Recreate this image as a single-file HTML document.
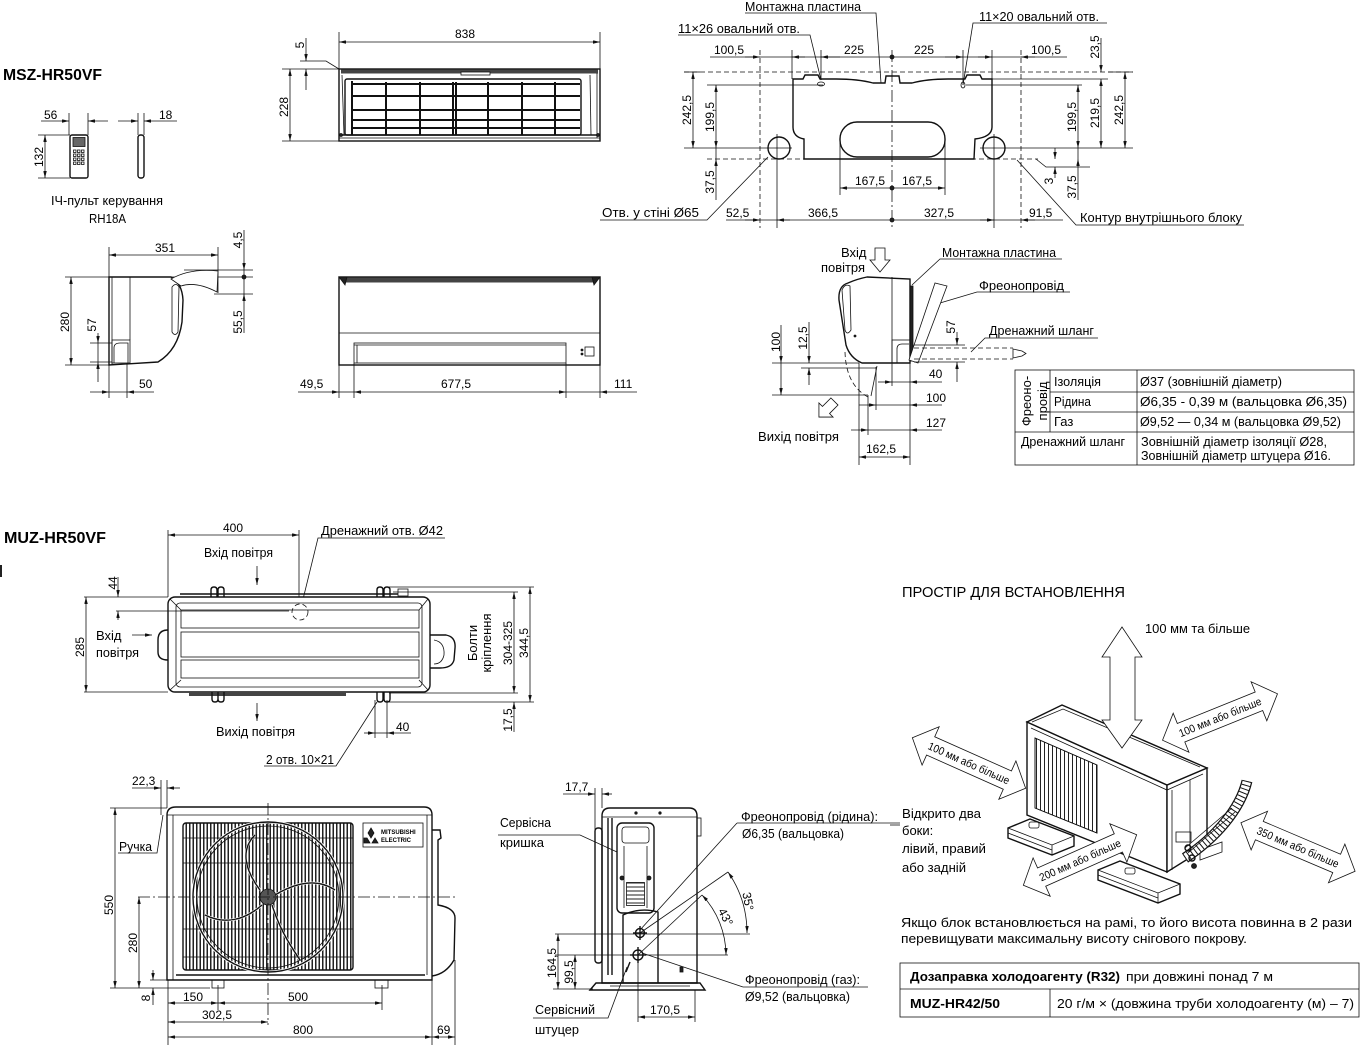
<!DOCTYPE html>
<html><head><meta charset="utf-8">
<style>
html,body{margin:0;padding:0;background:#fff;}
svg{display:block;}
text{font-family:"Liberation Sans","DejaVu Sans",sans-serif;font-size:12px;fill:#000;}
.l{font-size:13px;}
line,path,polyline,polygon,rect,circle,ellipse{stroke:#111;stroke-width:0.8;fill:none;}
.t{stroke-width:1.4;}
.dd{marker-start:url(#a);marker-end:url(#a);}
.de{marker-end:url(#a);}
.ds{stroke-dasharray:5 3;}
.dc{stroke-dasharray:12 3 2 3;}
.f{fill:#fff;}
.k{fill:#222;}
.g{stroke-width:2;}
</style></head><body>
<svg width="1372" height="1064" viewBox="0 0 1372 1064">
<defs>
<marker id="a" viewBox="0 0 10 5" refX="10" refY="2.5" markerWidth="7" markerHeight="3.5" orient="auto-start-reverse" markerUnits="userSpaceOnUse"><path d="M0,0L10,2.5L0,5z" style="fill:#111;stroke:none"/></marker>
<pattern id="vb" width="3.5" height="10" patternUnits="userSpaceOnUse"><rect x="0" y="0" width="1.5" height="10" style="fill:#222;stroke:none"/></pattern>
<pattern id="fb" width="4" height="10" patternUnits="userSpaceOnUse"><rect x="0" y="0" width="1" height="10" style="fill:#222;stroke:none"/></pattern>
</defs>

<!-- ================= A: title & remote ================= -->
<text x="3" y="80" style="font-weight:bold;font-size:16px" textLength="99" lengthAdjust="spacingAndGlyphs">MSZ-HR50VF</text>
<text x="44" y="119">56</text>
<line x1="41" y1="121" x2="69" y2="121" class="de"/>
<line x1="108" y1="121" x2="88" y2="121" class="de"/>
<line x1="69" y1="113" x2="69" y2="135"/>
<line x1="88" y1="113" x2="88" y2="135"/>
<text x="159" y="119">18</text>
<line x1="118" y1="121" x2="138" y2="121" class="de"/>
<line x1="177" y1="121" x2="144" y2="121" class="de"/>
<line x1="138" y1="113" x2="138" y2="135"/>
<line x1="144" y1="113" x2="144" y2="135"/>
<text transform="translate(43,157) rotate(-90)" text-anchor="middle">132</text>
<line x1="45" y1="135" x2="45" y2="178" class="dd"/>
<line x1="38" y1="135" x2="70" y2="135"/>
<line x1="38" y1="178" x2="70" y2="178"/>
<rect x="70" y="135" width="18" height="43" rx="2" class="t"/>
<rect x="73" y="137.5" width="12" height="9" style="fill:#666"/>
<g>
<rect x="73.5" y="150" width="2.5" height="2.5"/><rect x="77.5" y="150" width="2.5" height="2.5"/><rect x="81.5" y="150" width="2.5" height="2.5"/>
<rect x="73.5" y="154" width="2.5" height="2.5"/><rect x="77.5" y="154" width="2.5" height="2.5"/><rect x="81.5" y="154" width="2.5" height="2.5"/>
<rect x="73.5" y="158" width="2.5" height="2.5"/><rect x="77.5" y="158" width="2.5" height="2.5"/><rect x="81.5" y="158" width="2.5" height="2.5"/>
<rect x="73.5" y="162" width="2.5" height="2.5"/><rect x="77.5" y="162" width="2.5" height="2.5"/><rect x="81.5" y="162" width="2.5" height="2.5"/>
</g>
<rect x="138" y="135" width="6" height="43" rx="2.5" class="t"/>
<text x="51" y="205" class="l" textLength="112" lengthAdjust="spacingAndGlyphs">ІЧ-пульт керування</text>
<text x="89" y="223" class="l" textLength="37" lengthAdjust="spacingAndGlyphs">RH18A</text>

<!-- ================= B: indoor front (top) ================= -->
<line x1="339" y1="32" x2="339" y2="69"/>
<line x1="600" y1="32" x2="600" y2="69"/>
<line x1="339" y1="42" x2="600" y2="42" class="dd"/>
<text x="455" y="38">838</text>
<text transform="translate(304,45) rotate(-90)" text-anchor="middle">5</text>
<line x1="306" y1="38" x2="306" y2="61" class="de"/>
<line x1="306" y1="90" x2="306" y2="69" class="de"/>
<polyline points="300,61 326,61 339,69"/>
<line x1="282" y1="69" x2="339" y2="69"/>
<line x1="282" y1="141" x2="339" y2="141"/>
<line x1="290" y1="69" x2="290" y2="141" class="dd"/>
<text transform="translate(288,107) rotate(-90)" text-anchor="middle">228</text>
<rect x="339" y="69" width="261" height="72" class="t"/>
<rect x="341" y="69.5" width="257" height="4" style="fill:#444;stroke:none"/>
<rect x="461" y="72" width="29" height="3" style="fill:#fff"/>
<rect x="345" y="79" width="236" height="56" rx="2" class="t"/>
<g>
<line x1="352" y1="81" x2="352" y2="135" class="g"/><line x1="386" y1="82" x2="386" y2="135" class="g"/>
<line x1="420" y1="82" x2="420" y2="135" class="g"/><line x1="453" y1="82" x2="453" y2="135" class="g"/>
<line x1="456" y1="82" x2="456" y2="135" class="g"/><line x1="488" y1="82" x2="488" y2="135" class="g"/>
<line x1="522" y1="82" x2="522" y2="135" class="g"/><line x1="555" y1="82" x2="555" y2="135" class="g"/>
<line x1="352" y1="84" x2="580" y2="84" class="g"/><line x1="352" y1="96" x2="580" y2="96" class="g"/>
<line x1="352" y1="110" x2="580" y2="110" class="g"/><line x1="352" y1="120" x2="580" y2="120" class="g"/>
<line x1="352" y1="128" x2="580" y2="128" class="g"/>
</g>
<line x1="339" y1="135" x2="600" y2="135" class="t"/>
<line x1="339" y1="138" x2="600" y2="138"/>
<line x1="590" y1="75" x2="591" y2="135"/>
<line x1="597" y1="73" x2="597" y2="138"/>
<line x1="342" y1="75" x2="344" y2="135"/>
<circle cx="341" cy="135" r="1.5" class="k"/><circle cx="598" cy="135" r="1.5" class="k"/>

<!-- ================= C: indoor side view ================= -->
<text x="155" y="252">351</text>
<line x1="109" y1="255" x2="218" y2="255" class="dd"/>
<line x1="109" y1="247" x2="109" y2="277"/>
<line x1="218" y1="247" x2="218" y2="293"/>
<line x1="244" y1="230" x2="244" y2="270" class="de"/>
<line x1="244" y1="333" x2="244" y2="294" class="de"/>
<line x1="244" y1="270" x2="244" y2="294"/>
<circle cx="244" cy="277" r="2" class="k"/>
<line x1="184" y1="270" x2="253" y2="270"/>
<line x1="65" y1="277" x2="253" y2="277"/>
<line x1="214" y1="294" x2="253" y2="294"/>
<text transform="translate(242,240) rotate(-90)" text-anchor="middle">4,5</text>
<text transform="translate(242,322) rotate(-90)" text-anchor="middle">55,5</text>
<path d="M109,277 L171,277 Q182,283 183,300 L182,322 Q178,350 158,362 L109,365 Z" class="t f"/>
<line x1="112" y1="277" x2="112" y2="365"/>
<line x1="130" y1="277" x2="130" y2="340"/>
<path d="M171,279 Q190,268 218,271 L217,292 Q196,281 181,286 Z" class="f"/>
<path d="M172,287 Q176,282 179,287 L178,332 Q175,337 172,332 Z"/>
<rect x="112" y="340" width="18" height="23"/>
<path d="M114,363 L114,348 Q114,343 120,343 L128,343 L128,363"/>
<text transform="translate(69,322) rotate(-90)" text-anchor="middle">280</text>
<line x1="71" y1="277" x2="71" y2="365" class="dd"/>
<line x1="65" y1="365" x2="109" y2="365"/>
<text transform="translate(96,325) rotate(-90)" text-anchor="middle">57</text>
<line x1="98" y1="333" x2="98" y2="343" class="de"/>
<line x1="98" y1="382" x2="98" y2="362" class="de"/>
<line x1="98" y1="343" x2="98" y2="362"/>
<line x1="90" y1="343" x2="112" y2="343"/>
<line x1="90" y1="362" x2="112" y2="362"/>
<text x="139" y="388">50</text>
<line x1="90" y1="392" x2="109" y2="392" class="de"/>
<line x1="154" y1="392" x2="127" y2="392" class="de"/>
<line x1="109" y1="392" x2="127" y2="392"/>
<line x1="109" y1="365" x2="109" y2="398"/>
<line x1="127" y1="363" x2="127" y2="398"/>

<!-- ================= D: indoor front (lower) ================= -->
<rect x="339" y="277" width="261" height="88" class="t"/>
<rect x="345" y="277.5" width="250" height="5" style="fill:#444;stroke:none"/>
<path d="M339,277 L347,277 L345,285 Z" class="k"/>
<path d="M600,277 L592,277 L594,285 Z" class="k"/>
<line x1="339" y1="333" x2="600" y2="333"/>
<rect x="354" y="343" width="212" height="20"/>
<line x1="357" y1="345" x2="357" y2="363"/>
<line x1="354" y1="345" x2="566" y2="345"/>
<circle cx="582" cy="350" r="1" class="k"/><circle cx="582" cy="354" r="1" class="k"/>
<rect x="585" y="347" width="9" height="9"/>
<line x1="298" y1="392" x2="339" y2="392" class="de"/>
<line x1="354" y1="392" x2="566" y2="392" class="dd"/>
<line x1="637" y1="392" x2="600" y2="392" class="de"/>
<line x1="339" y1="392" x2="354" y2="392"/>
<line x1="566" y1="392" x2="600" y2="392"/>
<line x1="339" y1="365" x2="339" y2="398"/>
<line x1="354" y1="363" x2="354" y2="398"/>
<line x1="566" y1="363" x2="566" y2="398"/>
<line x1="600" y1="365" x2="600" y2="398"/>
<text x="300" y="388">49,5</text>
<text x="441" y="388">677,5</text>
<text x="614" y="388">111</text>

<!-- ================= E: mounting plate ================= -->
<text x="745" y="11" class="l" textLength="116" lengthAdjust="spacingAndGlyphs">Монтажна пластина</text>
<polyline points="745,13 876,13 881,83"/>
<text x="678" y="33" class="l" textLength="122" lengthAdjust="spacingAndGlyphs">11×26 овальний отв.</text>
<polyline points="678,35 810,35 821,80"/>
<text x="979" y="21" class="l" textLength="120" lengthAdjust="spacingAndGlyphs">11×20 овальний отв.</text>
<polyline points="1107,23 973,23 963,85"/>

<line x1="710" y1="57" x2="1067" y2="57"/>
<line x1="745" y1="57" x2="760" y2="57" class="de"/>
<line x1="805" y1="57" x2="792" y2="57" class="de"/>
<line x1="840" y1="57" x2="821" y2="57" class="de"/>
<circle cx="892" cy="57" r="2" class="k"/>
<line x1="945" y1="57" x2="963" y2="57" class="de"/>
<line x1="978" y1="57" x2="992" y2="57" class="de"/>
<line x1="1035" y1="57" x2="1021" y2="57" class="de"/>
<text x="714" y="54">100,5</text>
<text x="844" y="54">225</text>
<text x="914" y="54">225</text>
<text x="1031" y="54">100,5</text>

<line x1="760" y1="50" x2="760" y2="228" class="ds"/>
<line x1="792" y1="50" x2="792" y2="79"/>
<line x1="821" y1="50" x2="821" y2="80"/>
<line x1="892" y1="50" x2="892" y2="228" class="dc"/>
<line x1="963" y1="50" x2="963" y2="85"/>
<line x1="992" y1="50" x2="992" y2="79"/>
<line x1="1021" y1="50" x2="1021" y2="228" class="ds"/>

<line x1="684" y1="72" x2="1133" y2="72" class="ds"/>
<line x1="684" y1="72" x2="700" y2="72"/>
<line x1="1108" y1="72" x2="1133" y2="72"/>
<line x1="707" y1="85" x2="823" y2="85"/>
<line x1="966" y1="85" x2="1082" y2="85"/>
<line x1="992" y1="79" x2="1108" y2="79"/>
<line x1="684" y1="148" x2="792" y2="148"/>
<line x1="980" y1="148" x2="1133" y2="148"/>
<line x1="707" y1="159" x2="1038" y2="159" class="ds"/>
<polyline points="1036,159 1046,167 1090,167"/>

<path d="M793,79 L803,79 L805,75 L818,75 L820,79 L836,79 Q858,79 873,83 L885,83 L886,76 L899,76 L900,83 L912,83 Q927,79 948,79 L965,79 L967,75 L980,75 L982,79 L992,79 L992,127 Q992,137 975,139 L974,159 L804,159 L804,139 Q793,137 793,127 Z" class="t"/>
<rect x="840" y="122" width="105" height="35" rx="17" class="t"/>
<circle cx="779" cy="148" r="11" class="t"/>
<circle cx="994" cy="148" r="11" class="t"/>
<line x1="777" y1="134" x2="777" y2="228"/>
<line x1="994" y1="134" x2="994" y2="228"/>
<ellipse cx="821" cy="84" rx="3.5" ry="2"/>
<ellipse cx="963" cy="85" rx="2" ry="3"/>

<line x1="693" y1="72" x2="693" y2="148" class="dd"/>
<text transform="translate(691,110) rotate(-90)" text-anchor="middle">242,5</text>
<line x1="716" y1="85" x2="716" y2="148" class="dd"/>
<text transform="translate(714,117) rotate(-90)" text-anchor="middle">199,5</text>
<line x1="716" y1="200" x2="716" y2="159" class="de"/>
<line x1="716" y1="148" x2="716" y2="159"/>
<text transform="translate(714,182) rotate(-90)" text-anchor="middle">37,5</text>

<line x1="1078" y1="85" x2="1078" y2="148" class="dd"/>
<text transform="translate(1076,117) rotate(-90)" text-anchor="middle">199,5</text>
<line x1="1101" y1="79" x2="1101" y2="148" class="dd"/>
<text transform="translate(1099,113) rotate(-90)" text-anchor="middle">219,5</text>
<line x1="1125" y1="72" x2="1125" y2="148" class="dd"/>
<text transform="translate(1123,110) rotate(-90)" text-anchor="middle">242,5</text>
<line x1="1101" y1="38" x2="1101" y2="72" class="de"/>
<text transform="translate(1099,47) rotate(-90)" text-anchor="middle">23,5</text>
<line x1="1055" y1="148" x2="1055" y2="159" class="de"/>
<line x1="1055" y1="178" x2="1055" y2="167" class="de"/>
<text transform="translate(1053,181) rotate(-90)" text-anchor="middle">3</text>
<line x1="1078" y1="200" x2="1078" y2="159" class="de"/>
<line x1="1078" y1="148" x2="1078" y2="159"/>
<text transform="translate(1076,187) rotate(-90)" text-anchor="middle">37,5</text>

<line x1="726" y1="220" x2="1063" y2="220"/>
<line x1="745" y1="220" x2="760" y2="220" class="de"/>
<line x1="790" y1="220" x2="777" y2="220" class="de"/>
<circle cx="892" cy="220" r="2" class="k"/>
<line x1="980" y1="220" x2="994" y2="220" class="de"/>
<line x1="1035" y1="220" x2="1021" y2="220" class="de"/>
<text x="726" y="217">52,5</text>
<text x="808" y="217">366,5</text>
<text x="924" y="217">327,5</text>
<text x="1029" y="217">91,5</text>
<text x="855" y="185">167,5</text>
<text x="902" y="185">167,5</text>
<line x1="840" y1="188" x2="945" y2="188" class="dd"/>
<circle cx="892" cy="188" r="2" class="k"/>
<line x1="840" y1="140" x2="840" y2="195"/>
<line x1="945" y1="140" x2="945" y2="195"/>
<text x="602" y="217" class="l" textLength="97" lengthAdjust="spacingAndGlyphs">Отв. у стіні Ø65</text>
<polyline points="600,220 707,220 768,157"/>
<text x="1080" y="222" class="l" textLength="162" lengthAdjust="spacingAndGlyphs">Контур внутрішнього блоку</text>
<polyline points="1244,225 1076,225 1017,160"/>

<!-- ================= F: indoor side w/ air ================= -->
<text x="841" y="257" class="l">Вхід</text>
<text x="821" y="272" class="l" textLength="44" lengthAdjust="spacingAndGlyphs">повітря</text>
<polygon points="875,248 885,248 885,260 890,260 880,272 870,260 875,260" class="f"/>
<text x="942" y="257" class="l" textLength="114" lengthAdjust="spacingAndGlyphs">Монтажна пластина</text>
<polyline points="1062,259 940,259 912,285"/>
<text x="979" y="290" class="l" textLength="85" lengthAdjust="spacingAndGlyphs">Фреонопровід</text>
<polyline points="1070,292 977,292 940,303"/>
<text x="989" y="335" class="l" textLength="105" lengthAdjust="spacingAndGlyphs">Дренажний шланг</text>
<polyline points="1098,338 985,338 971,352"/>

<path d="M867,277 L910,279 L910,363 L862,363 Q850,358 846,345 L839,300 Q838,286 848,283 Q857,279 867,277 Z" class="t f"/>
<line x1="892" y1="277" x2="892" y2="363"/>
<path d="M842,290 Q845,283 850,286 L851,330 Q847,336 845,330 Z"/>
<circle cx="855" cy="336" r="1" class="k"/>
<rect x="892" y="340" width="18" height="23"/>
<path d="M897,363 L897,349 Q897,344 902,344 L909,344"/>
<rect x="910" y="286" width="3" height="75" class="k"/>
<polygon points="909,360 935,283 947,286 918,363" class="f"/>
<line x1="914" y1="348" x2="1013" y2="348" class="ds"/>
<line x1="914" y1="359" x2="1013" y2="359" class="ds"/>
<polygon points="1013,349 1022,351 1026,353.5 1022,356 1013,358"/>
<path d="M845,352 Q846,385 868,397" class="ds"/>
<line x1="877" y1="366" x2="871" y2="396"/>
<polygon points="-5,-12 5,-12 5,0 10,0 0,10 -10,0 -5,0" class="f" transform="translate(826,410) rotate(45)"/>

<text transform="translate(780,342) rotate(-90)" text-anchor="middle">100</text>
<line x1="781" y1="325" x2="781" y2="363" class="de"/>
<line x1="781" y1="363" x2="781" y2="395" class="de"/>
<line x1="772" y1="363" x2="859" y2="363"/>
<line x1="772" y1="395" x2="868" y2="395"/>
<text transform="translate(807,338) rotate(-90)" text-anchor="middle">12,5</text>
<line x1="809" y1="322" x2="809" y2="363" class="de"/>
<line x1="809" y1="385" x2="809" y2="368" class="de"/>
<line x1="801" y1="368" x2="876" y2="368"/>
<text transform="translate(955,327) rotate(-90)" text-anchor="middle">57</text>
<line x1="957" y1="332" x2="957" y2="345" class="de"/>
<line x1="957" y1="382" x2="957" y2="362" class="de"/>
<line x1="914" y1="345" x2="965" y2="345"/>
<line x1="914" y1="362" x2="965" y2="362"/>
<text x="929" y="378">40</text>
<line x1="878" y1="382" x2="892" y2="382" class="de"/>
<line x1="942" y1="382" x2="910" y2="382" class="de"/>
<line x1="892" y1="382" x2="910" y2="382"/>
<text x="926" y="402">100</text>
<line x1="859" y1="405" x2="876" y2="405" class="de"/>
<line x1="942" y1="405" x2="910" y2="405" class="de"/>
<line x1="876" y1="405" x2="910" y2="405"/>
<text x="926" y="427">127</text>
<line x1="851" y1="430" x2="868" y2="430" class="de"/>
<line x1="942" y1="430" x2="910" y2="430" class="de"/>
<line x1="868" y1="430" x2="910" y2="430"/>
<text x="866" y="453">162,5</text>
<line x1="859" y1="457" x2="910" y2="457" class="dd"/>
<line x1="859" y1="363" x2="859" y2="465"/>
<line x1="910" y1="363" x2="910" y2="465"/>
<line x1="868" y1="395" x2="868" y2="435"/>
<line x1="876" y1="367" x2="876" y2="410"/>
<line x1="892" y1="363" x2="892" y2="386"/>
<text x="758" y="441" class="l" textLength="81" lengthAdjust="spacingAndGlyphs">Вихід повітря</text>

<!-- table -->
<rect x="1015" y="370" width="339" height="95"/>
<line x1="1050" y1="370" x2="1050" y2="432"/>
<line x1="1137" y1="370" x2="1137" y2="465"/>
<line x1="1050" y1="392" x2="1354" y2="392"/>
<line x1="1050" y1="412" x2="1354" y2="412"/>
<line x1="1015" y1="432" x2="1354" y2="432"/>
<text transform="translate(1031,401) rotate(-90)" text-anchor="middle" class="l">Фреоно-</text>
<text transform="translate(1047,401) rotate(-90)" text-anchor="middle" class="l">провід</text>
<text x="1054" y="386" class="l" textLength="47" lengthAdjust="spacingAndGlyphs">Ізоляція</text>
<text x="1054" y="406" class="l" textLength="37" lengthAdjust="spacingAndGlyphs">Рідина</text>
<text x="1054" y="426" class="l">Газ</text>
<text x="1140" y="386" class="l" textLength="142" lengthAdjust="spacingAndGlyphs">Ø37 (зовнішній діаметр)</text>
<text x="1140" y="406" class="l" textLength="207" lengthAdjust="spacingAndGlyphs">Ø6,35 - 0,39 м (вальцовка Ø6,35)</text>
<text x="1140" y="426" class="l" textLength="201" lengthAdjust="spacingAndGlyphs">Ø9,52 — 0,34  м (вальцовка Ø9,52)</text>
<text x="1021" y="446" class="l" textLength="104" lengthAdjust="spacingAndGlyphs">Дренажний шланг</text>
<text x="1141" y="446" class="l" textLength="186" lengthAdjust="spacingAndGlyphs">Зовнішній діаметр ізоляції Ø28,</text>
<text x="1141" y="460" class="l" textLength="190" lengthAdjust="spacingAndGlyphs">Зовнішній діаметр штуцера Ø16.</text>

<!-- ================= G: outdoor top view ================= -->
<text x="4" y="543" style="font-weight:bold;font-size:16px" textLength="102" lengthAdjust="spacingAndGlyphs">MUZ-HR50VF</text>
<rect x="0" y="565" width="2" height="12" class="k" style="stroke:none"/>
<text x="223" y="532">400</text>
<line x1="168" y1="535" x2="299" y2="535" class="dd"/>
<line x1="168" y1="530" x2="168" y2="597"/>
<line x1="299" y1="530" x2="299" y2="623"/>
<text x="204" y="557" class="l" textLength="69" lengthAdjust="spacingAndGlyphs">Вхід повітря</text>
<line x1="257" y1="566" x2="257" y2="585" class="de"/>
<text x="321" y="535" class="l" textLength="122" lengthAdjust="spacingAndGlyphs">Дренажний  отв. Ø42</text>
<polyline points="445,538 318,538 295,632"/>

<path d="M168,630 Q158,630 158,640 L158,652 Q158,660 168,660" class="t"/>
<path d="M430,635 L446,635 Q456,637 455,648 L454,660 Q452,668 440,668 L430,668" class="t"/>
<path d="M434,640 Q445,642 444,655 Q442,664 434,664"/>
<rect x="168" y="597" width="262" height="95" rx="7" class="t f"/>
<rect x="176" y="603" width="246" height="84" rx="4"/>
<line x1="170" y1="599" x2="181" y2="610"/><line x1="428" y1="599" x2="419" y2="610"/>
<line x1="170" y1="690" x2="181" y2="680"/><line x1="428" y1="690" x2="419" y2="680"/>
<rect x="181" y="610" width="238" height="18"/>
<rect x="181" y="632" width="238" height="25"/>
<rect x="181" y="660" width="238" height="18"/>
<line x1="180" y1="594" x2="398" y2="594" class="t"/>
<rect x="398" y="589" width="10" height="7"/>
<rect x="189" y="692" width="157" height="4" style="fill:#444;stroke:none"/>
<path d="M211,597 L211,590 Q211,587 214,587 Q217,587 217,590 L217,597 M218,597 L218,590 Q218,587 221,587 Q224,587 224,590 L224,597" class="t"/>
<path d="M377,597 L377,590 Q377,587 380,587 Q383,587 383,590 L383,597 M384,597 L384,590 Q384,587 387,587 Q390,587 390,590 L390,597" class="t"/>
<path d="M212,692 L212,699 Q212,702 215,702 Q218,702 218,699 L218,692 M218,692 L218,699 Q218,702 221,702 Q224,702 224,699 L224,692" class="t"/>
<path d="M377,692 L377,699 Q377,702 380,702 Q383,702 383,699 L383,692 M384,692 L384,699 Q384,702 387,702 Q390,702 390,699 L390,692" class="t"/>
<circle cx="300" cy="612" r="8" class="ds"/>

<text transform="translate(117,583) rotate(-90)" text-anchor="middle">44</text>
<line x1="118" y1="577" x2="118" y2="597" class="de"/>
<line x1="118" y1="620" x2="118" y2="611" class="de"/>
<line x1="84" y1="597" x2="168" y2="597"/>
<line x1="116" y1="611" x2="289" y2="611"/>
<text transform="translate(84,647) rotate(-90)" text-anchor="middle">285</text>
<line x1="86" y1="597" x2="86" y2="692" class="dd"/>
<line x1="84" y1="692" x2="168" y2="692"/>
<text x="96" y="640" class="l">Вхід</text>
<text x="96" y="657" class="l" textLength="43" lengthAdjust="spacingAndGlyphs">повітря</text>
<line x1="132" y1="635" x2="152" y2="635" class="de"/>
<text x="216" y="736" class="l" textLength="79" lengthAdjust="spacingAndGlyphs">Вихід повітря</text>
<line x1="257" y1="703" x2="257" y2="721" class="de"/>
<text transform="translate(477,643) rotate(-90)" text-anchor="middle" class="l">Болти</text>
<text transform="translate(491,643) rotate(-90)" text-anchor="middle" class="l">кріплення</text>
<text transform="translate(512,643) rotate(-90)" text-anchor="middle">304-325</text>
<text transform="translate(528,643) rotate(-90)" text-anchor="middle">344,5</text>
<line x1="514" y1="592" x2="514" y2="693" class="dd"/>
<line x1="530" y1="587" x2="530" y2="702" class="dd"/>
<line x1="389" y1="587" x2="534" y2="587"/>
<line x1="393" y1="592" x2="518" y2="592"/>
<line x1="389" y1="693" x2="518" y2="693"/>
<line x1="389" y1="702" x2="534" y2="702"/>
<text transform="translate(512,720) rotate(-90)" text-anchor="middle">17,5</text>
<line x1="514" y1="732" x2="514" y2="702" class="de"/>
<text x="396" y="731">40</text>
<line x1="364" y1="733" x2="375" y2="733" class="de"/>
<line x1="411" y1="733" x2="387" y2="733" class="de"/>
<line x1="375" y1="733" x2="387" y2="733"/>
<line x1="375" y1="700" x2="375" y2="738"/>
<line x1="387" y1="700" x2="387" y2="738"/>
<text x="266" y="764" class="l" textLength="68" lengthAdjust="spacingAndGlyphs">2 отв. 10×21</text>
<polyline points="264,766 336,766 377,702"/>

<!-- ================= H: outdoor front ================= -->
<text x="132" y="785">22,3</text>
<line x1="132" y1="788" x2="161" y2="788" class="de"/>
<line x1="180" y1="788" x2="167" y2="788" class="de"/>
<line x1="161" y1="780" x2="161" y2="815"/>
<line x1="167" y1="780" x2="167" y2="808"/>
<path d="M432,830 L440,830 L441,838 L438,840 L438,905 Q455,908 455,918 L454,960 Q446,974 432,976" class="t"/>
<path d="M167,815 Q167,807 176,807 L424,807 Q432,807 432,815 L432,980 L167,980 Z" class="t f"/>
<line x1="167" y1="815" x2="432" y2="815"/>
<line x1="173" y1="815" x2="173" y2="980"/>
<line x1="427" y1="815" x2="427" y2="975"/>
<rect x="183" y="823" width="170" height="147" rx="3" style="fill:url(#vb)" class="t"/>
<circle cx="268" cy="897" r="75" style="stroke:#fff;stroke-width:3"/>
<circle cx="268" cy="897" r="75" class="t"/>
<circle cx="268" cy="897" r="71"/>
<path d="M260,890 C245,870 240,850 255,835" style="stroke:#fff;stroke-width:2.5"/>
<path d="M275,895 C300,880 320,880 335,890" style="stroke:#fff;stroke-width:2.5"/>
<path d="M262,905 C245,920 225,925 205,915" style="stroke:#fff;stroke-width:2.5"/>
<path d="M272,905 C280,930 290,945 300,960" style="stroke:#fff;stroke-width:2.5"/>
<path d="M260,890 C245,870 240,850 255,835" class="t"/>
<path d="M275,895 C300,880 320,880 335,890" class="t"/>
<path d="M262,905 C245,920 225,925 205,915" class="t"/>
<path d="M272,905 C280,930 290,945 300,960" class="t"/>
<circle cx="268" cy="897" r="8" style="fill:#555"/>
<line x1="183" y1="838" x2="353" y2="838"/>
<line x1="183" y1="863" x2="353" y2="863"/>
<line x1="183" y1="929" x2="353" y2="929"/>
<line x1="183" y1="957" x2="353" y2="957"/>
<rect x="363" y="823" width="60" height="24" class="f"/>
<path d="M371,828 L374,833 L371,838 L368,833 Z M367,838 L370,843 L364,843 L364,838 Z M375,838 L378,843 L372,843 Z" class="k"/>
<text x="381" y="834" style="font-size:6px;font-weight:bold">MITSUBISHI</text>
<text x="381" y="842" style="font-size:6px;font-weight:bold">ELECTRIC</text>
<line x1="176" y1="975" x2="425" y2="975" class="t"/>
<rect x="212" y="980" width="12" height="8"/>
<rect x="375" y="980" width="13" height="8"/>
<line x1="138" y1="897" x2="455" y2="897" class="dc"/>
<line x1="268" y1="803" x2="268" y2="1025" class="dc"/>
<text x="119" y="851" class="l" textLength="33" lengthAdjust="spacingAndGlyphs">Ручка</text>
<polyline points="118,853 157,853 163,815"/>
<text transform="translate(113,905) rotate(-90)" text-anchor="middle">550</text>
<line x1="115" y1="808" x2="115" y2="988" class="dd"/>
<line x1="110" y1="808" x2="167" y2="808"/>
<line x1="110" y1="988" x2="210" y2="988"/>
<text transform="translate(137,943) rotate(-90)" text-anchor="middle">280</text>
<line x1="139" y1="897" x2="139" y2="988" class="dd"/>
<text transform="translate(150,998) rotate(-90)" text-anchor="middle">8</text>
<line x1="153" y1="970" x2="153" y2="980" class="de"/>
<line x1="153" y1="1005" x2="153" y2="988" class="de"/>
<line x1="150" y1="980" x2="167" y2="980"/>
<text x="183" y="1001">150</text>
<text x="288" y="1001">500</text>
<line x1="168" y1="1003" x2="218" y2="1003" class="dd"/>
<line x1="218" y1="1003" x2="382" y2="1003" class="dd"/>
<line x1="218" y1="985" x2="218" y2="1010"/>
<line x1="382" y1="985" x2="382" y2="1010"/>
<text x="202" y="1019">302,5</text>
<line x1="168" y1="1022" x2="268" y2="1022" class="dd"/>
<text x="293" y="1034">800</text>
<text x="437" y="1034">69</text>
<line x1="168" y1="1037" x2="432" y2="1037" class="dd"/>
<line x1="432" y1="1037" x2="455" y2="1037" class="dd"/>
<line x1="168" y1="980" x2="168" y2="1045"/>
<line x1="432" y1="980" x2="432" y2="1045"/>
<line x1="455" y1="960" x2="455" y2="1045"/>

<!-- ================= I: outdoor side ================= -->
<text x="565" y="791">17,7</text>
<line x1="563" y1="794" x2="595" y2="794" class="de"/>
<line x1="612" y1="794" x2="602" y2="794" class="de"/>
<line x1="595" y1="788" x2="595" y2="830"/>
<line x1="602" y1="788" x2="602" y2="808"/>
<path d="M602,816 Q602,808 610,808 L689,808 Q697,808 697,816 L697,983 L602,983 Z" class="t f"/>
<line x1="602" y1="817" x2="697" y2="817"/>
<circle cx="636" cy="813" r="1.2" class="k"/><circle cx="660" cy="813" r="1.2" class="k"/>
<rect x="595" y="828" width="7" height="135" rx="3" class="t"/>
<line x1="608" y1="818" x2="608" y2="975" class="t"/>
<line x1="612" y1="818" x2="612" y2="975" class="t"/>
<rect x="697" y="818" width="4" height="18"/>
<rect x="617" y="823" width="37" height="90" rx="5" class="t"/>
<rect x="622" y="827" width="27" height="16" rx="3"/>
<line x1="624" y1="846" x2="624" y2="908"/>
<line x1="647" y1="846" x2="647" y2="908"/>
<circle cx="622" cy="878" r="2" class="k"/><circle cx="649" cy="878" r="2" class="k"/>
<rect x="624" y="885" width="23" height="18" style="fill:url(#fb);" transform="rotate(90 635.5 894)"/>
<path d="M623,983 L623,915 Q640,907 658,912 L658,983" class="t"/>
<circle cx="640" cy="933" r="4.5" class="t"/>
<line x1="633" y1="933" x2="647" y2="933" class="t"/><line x1="640" y1="926" x2="640" y2="940" class="t"/>
<circle cx="638" cy="955" r="5" class="t"/>
<line x1="630" y1="955" x2="646" y2="955" class="t"/><line x1="638" y1="947" x2="638" y2="963" class="t"/>
<path d="M630,962 L626,972" class="t"/>
<rect x="680" y="967" width="3" height="5" class="k"/>
<polygon points="590,990 596,983 700,983 705,990" class="t"/>
<line x1="610" y1="986" x2="690" y2="986"/>
<text x="500" y="827" class="l" textLength="51" lengthAdjust="spacingAndGlyphs">Сервісна</text>
<text x="500" y="847" class="l" textLength="44" lengthAdjust="spacingAndGlyphs">кришка</text>
<polyline points="498,835 580,835 617,852"/>
<text x="741" y="821" class="l" textLength="137" lengthAdjust="spacingAndGlyphs">Фреонопровід (рідина):</text>
<line x1="737" y1="823" x2="900" y2="823"/>
<text x="742" y="838" class="l" textLength="102" lengthAdjust="spacingAndGlyphs">Ø6,35 (вальцовка)</text>
<line x1="737" y1="823" x2="640" y2="930"/>
<text x="745" y="984" class="l" textLength="115" lengthAdjust="spacingAndGlyphs">Фреонопровід (газ):</text>
<line x1="743" y1="987" x2="868" y2="987"/>
<text x="745" y="1001" class="l" textLength="105" lengthAdjust="spacingAndGlyphs">Ø9,52 (вальцовка)</text>
<line x1="743" y1="987" x2="642" y2="953"/>
<line x1="640" y1="933" x2="728" y2="872"/>
<line x1="638" y1="955" x2="702" y2="895"/>
<path d="M728,872 A107,107 0 0,1 747,933" class="dd"/>
<path d="M702,895 A88,88 0 0,1 726,955" class="dd"/>
<text transform="translate(744,902) rotate(80)" text-anchor="middle">35°</text>
<text transform="translate(722,919) rotate(62)" text-anchor="middle">43°</text>
<line x1="555" y1="934" x2="750" y2="934"/>
<line x1="555" y1="955" x2="728" y2="955"/>
<text transform="translate(556,963) rotate(-90)" text-anchor="middle">164,5</text>
<line x1="558" y1="934" x2="558" y2="989" class="dd"/>
<text transform="translate(573,972) rotate(-90)" text-anchor="middle">99,5</text>
<line x1="575" y1="955" x2="575" y2="989" class="dd"/>
<line x1="553" y1="989" x2="593" y2="989"/>
<text x="650" y="1014">170,5</text>
<line x1="638" y1="1017" x2="695" y2="1017" class="dd"/>
<line x1="638" y1="960" x2="638" y2="1022"/>
<line x1="695" y1="990" x2="695" y2="1022"/>
<text x="535" y="1014" class="l" textLength="60" lengthAdjust="spacingAndGlyphs">Сервісний</text>
<text x="535" y="1034" class="l" textLength="44" lengthAdjust="spacingAndGlyphs">штуцер</text>
<polyline points="533,1018 608,1018 627,967"/>

<!-- ================= J: installation space ================= -->
<text x="902" y="597" style="font-size:15px" textLength="223" lengthAdjust="spacingAndGlyphs">ПРОСТІР ДЛЯ ВСТАНОВЛЕННЯ</text>
<text x="1145" y="633" class="l" textLength="105" lengthAdjust="spacingAndGlyphs">100 мм та більше</text>

<!-- blocks -->
<polygon points="1008,828 1030,819 1074,836 1074,846 1052,855 1008,838" class="f t"/>
<polyline points="1008,828 1052,845 1074,836"/>
<line x1="1052" y1="845" x2="1052" y2="855"/>
<polyline points="1008,833 1052,850"/>
<polygon points="1098,870 1120,861 1180,884 1180,894 1158,903 1098,880" class="f t"/>
<polyline points="1098,870 1158,893 1180,884"/>
<line x1="1158" y1="893" x2="1158" y2="903"/>
<polyline points="1098,875 1158,898"/>
<polygon points="1200,850 1222,842 1222,852 1200,860" class="f"/>
<rect x="1029" y="822" width="10" height="6" rx="2"/>
<rect x="1125" y="868" width="10" height="6" rx="2"/>

<!-- unit -->
<polygon points="1027,722 1167,785 1167,872 1027,815" class="f t"/>
<polygon points="1167,785 1207,768 1207,847 1167,872" class="f t"/>
<polygon points="1027,722 1062,705 1207,768 1167,785" class="f t"/>
<polyline points="1032,722 1063,709 1200,767"/>
<polyline points="1031,728 1167,790 1203,774"/>
<line x1="1172" y1="790" x2="1172" y2="870"/>
<line x1="1190" y1="780" x2="1190" y2="860"/>
<polygon points="1035,738 1097,765 1097,833 1035,808" style="fill:url(#fb)"/>
<polygon points="1035,738 1097,765 1097,833 1035,808"/>
<path d="M1185,858 C1215,838 1240,810 1247,781" style="stroke:#111;stroke-width:11;fill:none"/>
<path d="M1185,858 C1215,838 1240,810 1247,781" style="stroke:#fff;stroke-width:8.5;fill:none"/>
<path d="M1185,858 C1215,838 1240,810 1247,781" style="stroke:#111;stroke-width:8.5;stroke-dasharray:1 3;fill:none"/>
<line x1="1185" y1="848" x2="1232" y2="808"/>
<line x1="1188" y1="853" x2="1235" y2="812"/>
<circle cx="1188" cy="848" r="3" class="t"/>
<circle cx="1192" cy="858" r="3" class="t"/>
<circle cx="1194" cy="866" r="2.5" class="k"/>
<rect x="1176" y="832" width="15" height="10"/>

<!-- arrows -->
<polygon points="1122,627 1142,657 1135,657 1135,720 1142,720 1122,748 1102,720 1110,720 1110,657 1102,657" class="f"/>
<g transform="translate(969,763) rotate(24)">
<polygon points="-62,0 -42,-21 -42,-10 42,-10 42,-21 62,0 42,21 42,10 -42,10 -42,21" class="f"/>
<text x="0" y="4" text-anchor="middle" style="font-size:11px" textLength="88" lengthAdjust="spacingAndGlyphs">100 мм або більше</text>
</g>
<g transform="translate(1220,717) rotate(-22)">
<polygon points="-62,0 -42,-21 -42,-10 42,-10 42,-21 62,0 42,21 42,10 -42,10 -42,21" class="f"/>
<text x="0" y="4" text-anchor="middle" style="font-size:11px" textLength="88" lengthAdjust="spacingAndGlyphs">100 мм або більше</text>
</g>
<g transform="translate(1080,860) rotate(-24)">
<polygon points="-62,0 -42,-21 -42,-10 42,-10 42,-21 62,0 42,21 42,10 -42,10 -42,21" class="f"/>
<text x="0" y="4" text-anchor="middle" style="font-size:11px" textLength="88" lengthAdjust="spacingAndGlyphs">200 мм або більше</text>
</g>
<g transform="translate(1298,847) rotate(23)">
<polygon points="-62,0 -42,-21 -42,-10 42,-10 42,-21 62,0 42,21 42,10 -42,10 -42,21" class="f"/>
<text x="0" y="4" text-anchor="middle" style="font-size:11px" textLength="88" lengthAdjust="spacingAndGlyphs">350 мм або більше</text>
</g>

<line x1="890" y1="825" x2="900" y2="825"/>
<text x="902" y="818" class="l" textLength="79" lengthAdjust="spacingAndGlyphs">Відкрито два</text>
<text x="902" y="835" class="l">боки:</text>
<text x="902" y="853" class="l" textLength="84" lengthAdjust="spacingAndGlyphs">лівий, правий</text>
<text x="902" y="872" class="l" textLength="64" lengthAdjust="spacingAndGlyphs">або задній</text>

<text x="901" y="927" class="l" textLength="451" lengthAdjust="spacingAndGlyphs">Якщо блок встановлюється на рамі, то його висота повинна в 2 рази</text>
<text x="901" y="943" class="l" textLength="346" lengthAdjust="spacingAndGlyphs">перевищувати максимальну висоту снігового покрову.</text>
<rect x="900" y="963" width="459" height="54"/>
<line x1="900" y1="989" x2="1359" y2="989"/>
<line x1="1050" y1="989" x2="1050" y2="1017"/>
<text x="910" y="981" class="l" style="font-weight:bold" textLength="210" lengthAdjust="spacingAndGlyphs">Дозаправка холодоагенту (R32)</text>
<text x="1126" y="981" class="l" textLength="147" lengthAdjust="spacingAndGlyphs">при довжині понад 7 м</text>
<text x="910" y="1008" class="l" style="font-weight:bold" textLength="90" lengthAdjust="spacingAndGlyphs">MUZ-HR42/50</text>
<text x="1057" y="1008" class="l" textLength="297" lengthAdjust="spacingAndGlyphs">20 г/м × (довжина труби холодоагенту (м) – 7)</text>
</svg>
</body></html>
